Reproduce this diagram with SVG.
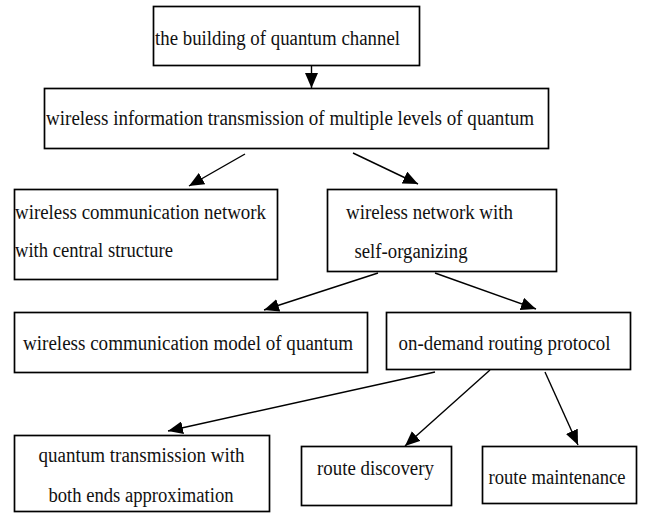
<svg xmlns="http://www.w3.org/2000/svg" width="648" height="513" viewBox="0 0 648 513">
<defs>
<marker id="ah" viewBox="0 0 15 13" refX="15" refY="6.5" markerWidth="15" markerHeight="13" markerUnits="userSpaceOnUse" orient="auto">
<path d="M0,0 L15,6.5 L0,13 Z" fill="#000"/>
</marker>
<style>
.box{fill:#fff;stroke:#000;stroke-width:1.7}
.t{font-family:"Liberation Serif","Times New Roman",serif;font-size:20px;fill:#111}
.c{stroke:#000;stroke-width:1.4;fill:none;marker-end:url(#ah)}
</style>
</defs>
<rect width="648" height="513" fill="#fff"/>
<g id="connectors">
<line class="c" x1="311.5" y1="66" x2="311.5" y2="88"/>
<line class="c" x1="245" y1="154" x2="189" y2="186"/>
<line class="c" x1="353" y1="153" x2="418" y2="184"/>
<line class="c" x1="378" y1="273" x2="264" y2="310"/>
<line class="c" x1="435" y1="273" x2="536" y2="309"/>
<line class="c" x1="435" y1="372" x2="168" y2="431"/>
<line class="c" x1="490" y1="370" x2="405" y2="446"/>
<line class="c" x1="545" y1="372" x2="578" y2="445"/>
</g>
<g id="n1">
<rect class="box" x="153.5" y="6.5" width="266" height="59"/>
<text class="t" x="155" y="45" textLength="245" lengthAdjust="spacingAndGlyphs">the building of quantum channel</text>
</g>
<g id="n2">
<rect class="box" x="44.5" y="88.5" width="504" height="60"/>
<text class="t" x="46" y="125" textLength="488" lengthAdjust="spacingAndGlyphs">wireless information  transmission of multiple  levels  of quantum</text>
</g>
<g id="n3">
<rect class="box" x="14.5" y="189.5" width="263" height="90"/>
<text class="t" x="15" y="218.5" textLength="251" lengthAdjust="spacingAndGlyphs">wireless communication  network</text>
<text class="t" x="15" y="257" textLength="158" lengthAdjust="spacingAndGlyphs">with central  structure</text>
</g>
<g id="n4">
<rect class="box" x="327.5" y="189.5" width="229" height="82"/>
<text class="t" x="346" y="218.5" textLength="167" lengthAdjust="spacingAndGlyphs">wireless network with</text>
<text class="t" x="354.5" y="258" textLength="113" lengthAdjust="spacingAndGlyphs">self-organizing</text>
</g>
<g id="n5">
<rect class="box" x="14.5" y="312.5" width="353" height="60"/>
<text class="t" x="23" y="349.5" textLength="330" lengthAdjust="spacingAndGlyphs">wireless communication  model of quantum</text>
</g>
<g id="n6">
<rect class="box" x="386.5" y="312.5" width="244" height="57"/>
<text class="t" x="398.5" y="349.5" textLength="212" lengthAdjust="spacingAndGlyphs">on-demand routing protocol</text>
</g>
<g id="n7">
<rect class="box" x="14.5" y="435.5" width="255" height="76"/>
<text class="t" x="38.5" y="462" textLength="206" lengthAdjust="spacingAndGlyphs">quantum transmission with</text>
<text class="t" x="48.5" y="501.5" textLength="185" lengthAdjust="spacingAndGlyphs">both ends approximation</text>
</g>
<g id="n8">
<rect class="box" x="301.5" y="446.5" width="150" height="59"/>
<text class="t" x="317" y="475" textLength="117" lengthAdjust="spacingAndGlyphs">route discovery</text>
</g>
<g id="n9">
<rect class="box" x="482.5" y="446.5" width="154" height="57"/>
<text class="t" x="488.5" y="483.5" textLength="137" lengthAdjust="spacingAndGlyphs">route maintenance</text>
</g>
</svg>
